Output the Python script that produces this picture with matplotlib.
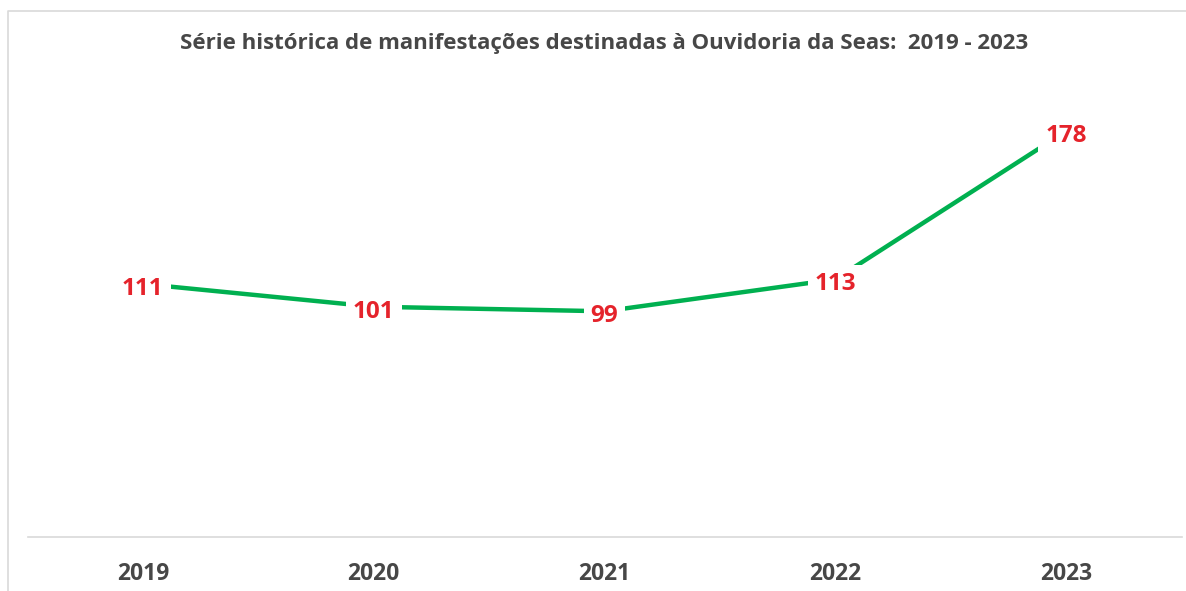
import matplotlib.pyplot as plt
from matplotlib.lines import Line2D

## data
years = ['2019', '2020', '2021', '2022', '2023']
counts = [111, 101, 99, 113, 178]
title = 'Série histórica de manifestações destinadas à Ouvidoria da Seas:  2019 - 2023'

plt.rcParams['font.family'] = ['Open Sans', 'DejaVu Sans']

fig = plt.figure(figsize=(11.86, 5.91), dpi=100)

## light gray frame (left and top edges only are visible in the reference)
fx, fy = 7.5 / 1186, 1 - 10.5 / 591
fig.lines.append(Line2D([fx, fx, 1.0], [0.0, fy, fy], transform=fig.transFigure,
                        color='#d9d9d9', linewidth=1.2))

ax = fig.add_axes([27.5 / 1186, 54 / 591, 1154 / 1186, 456 / 591])
x = list(range(len(years)))
ax.plot(x, counts, color='#00b050', linewidth=3.2, solid_capstyle='butt')

## value labels on white boxes, centred on the points
for i, v in enumerate(counts):
    ax.annotate(str(v), (i, v), xytext=(0, -3.5), textcoords='offset points',
                ha='center', va='center', color='#e5232b',
                fontsize=17.5, fontweight='bold',
                bbox=dict(facecolor='white', edgecolor='none', pad=5))

ax.set_xlim(-0.5, len(years) - 0.5)
ax.set_ylim(0, 200)
ax.set_xticks(x)
ax.set_xticklabels(years, fontsize=16.5, fontweight='bold', color='#474747')
ax.tick_params(axis='x', length=0, pad=18)
ax.set_yticks([])
for s in ['top', 'left', 'right']:
    ax.spines[s].set_visible(False)
ax.spines['bottom'].set_color('#d9d9d9')
ax.spines['bottom'].set_linewidth(1.2)

fig.text(604 / 1186, 1 - 44 / 591, title, ha='center', va='center',
         fontsize=16, fontweight='bold', color='#474747')

plt.savefig('out.png', dpi=100)
